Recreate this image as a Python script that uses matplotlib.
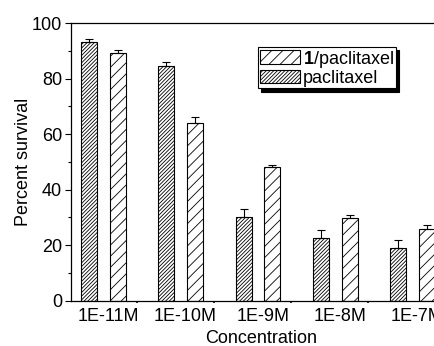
import matplotlib
matplotlib.use("Agg")
from matplotlib import pyplot as plt
import numpy as np

plt.rcParams["font.family"] = ["Liberation Sans", "DejaVu Sans"]
plt.rcParams["mathtext.fontset"] = "custom"
plt.rcParams["mathtext.bf"] = "Liberation Sans:bold"
plt.rcParams["mathtext.rm"] = "Liberation Sans"
plt.rcParams["hatch.linewidth"] = 0.6

# survival data
conc = ["1E-11M", "1E-10M", "1E-9M", "1E-8M", "1E-7M"]
pac = [93.1, 84.6, 30.0, 22.7, 18.9]
pac_err = [1.2, 1.5, 3.0, 2.7, 3.1]
combo = [89.1, 64.0, 48.0, 29.7, 25.8]
combo_err = [1.0, 2.2, 1.0, 1.2, 1.6]

FS = 13

W, H = 435, 346
fig = plt.figure(figsize=(W / 100, H / 100), dpi=100)
ax = fig.add_axes([71 / W, (H - 300.7) / H, 380 / W, 277.7 / H])

x = np.arange(1, len(conc) + 1)
off = 0.186
bw = 0.207

ax.bar(x - off, pac, bw, facecolor="white", edgecolor="black", linewidth=0.8,
       hatch="/////////", label="paclitaxel", zorder=2)
ax.bar(x + off, combo, bw, facecolor="white", edgecolor="black", linewidth=0.8,
       hatch="///", label="$\\mathbf{1}$/paclitaxel", zorder=2)

ax.errorbar(x - off, pac, yerr=[np.zeros(len(pac)), pac_err], fmt="none",
            ecolor="black", elinewidth=0.8, capsize=3, capthick=0.8, zorder=3)
ax.errorbar(x + off, combo, yerr=[np.zeros(len(combo)), combo_err], fmt="none",
            ecolor="black", elinewidth=0.8, capsize=3, capthick=0.8, zorder=3)

ax.set_xlim(0.579, 0.579 + 380 / 77.25)
ax.set_ylim(0, 100)

ax.set_xticks(x + 0.06)
ax.set_xticklabels(conc, fontsize=FS)
ax.set_xticks(x + 0.43, minor=True)
ax.tick_params(axis="x", which="major", length=0, pad=5)
ax.tick_params(axis="x", which="minor", length=1.5, width=1.2, direction="out")

ax.set_yticks(np.arange(0, 101, 20))
ax.set_yticks(np.arange(10, 100, 20), minor=True)
ax.tick_params(axis="y", which="major", length=4, width=0.8, labelsize=FS, pad=2.5)
ax.tick_params(axis="y", which="minor", length=2.5, width=0.8)

ax.spines["right"].set_visible(False)
for s in ["left", "bottom", "top"]:
    ax.spines[s].set_linewidth(0.9)

ax.set_xlabel("Concentration", fontsize=FS, labelpad=4)
ax.set_ylabel("Percent survival", fontsize=FS, labelpad=-0.5)

handles, labels = ax.get_legend_handles_labels()
leg = ax.legend(handles[::-1], labels[::-1], loc="upper left",
                bbox_to_anchor=(258 / W, (H - 46.7) / H), bbox_transform=fig.transFigure,
                fontsize=FS, frameon=True, fancybox=False, handlelength=2.2,
                handleheight=0.8, handletextpad=0.2, labelspacing=0.0,
                borderpad=0.1, borderaxespad=0,
                shadow={"ox": 2.5, "oy": -2.5, "color": "black", "alpha": 1})
leg.get_frame().set_edgecolor("black")
leg.get_frame().set_linewidth(0.8)

fig.savefig("out.png", dpi=100)
